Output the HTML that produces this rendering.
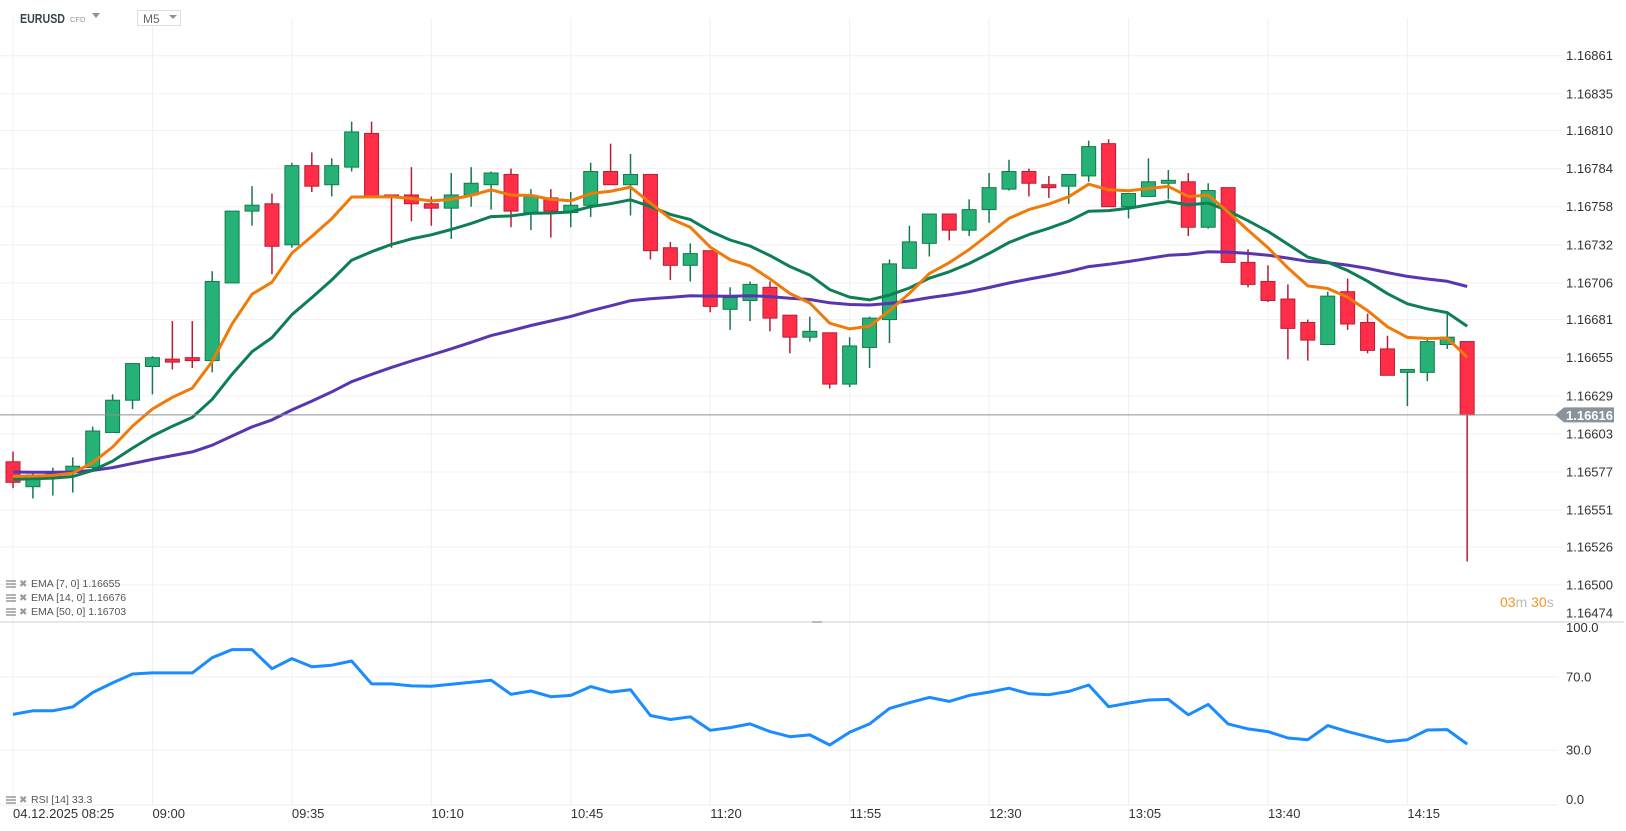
<!DOCTYPE html>
<html><head><meta charset="utf-8"><style>
html,body{margin:0;padding:0;background:#fff;}
svg{display:block;font-family:"Liberation Sans",sans-serif;}
</style></head><body>
<svg id="chart" width="1626" height="831" viewBox="0 0 1626 831">
<rect x="0" y="0" width="1626" height="831" fill="#fff"/>
<g id="grid"></g>
<g id="candles"></g>
<g id="emas"></g>
<g id="rsi"></g>
<g id="axes"></g>
<g>
  <text x="20" y="23" font-size="13" font-weight="bold" fill="#37474f" textLength="45" lengthAdjust="spacingAndGlyphs">EURUSD</text>
  <text x="70" y="22" font-size="7.5" fill="#8a9399">CFD</text>
  <path d="M92 13 L100 13 L96 18 Z" fill="#8a9399"/>
  <rect x="137.5" y="10.5" width="43" height="15" fill="#fff" stroke="#ddd"/>
  <text x="143" y="23" font-size="12" fill="#666">M5</text>
  <path d="M169 15 L177 15 L173 19 Z" fill="#8a9399"/>
</g>
<g font-size="10.5" fill="#555">
  <g><path d="M6 581h10M6 584h10M6 587h10" stroke="#999" stroke-width="1.5"/><text x="19" y="587" fill="#999" font-size="10">✖</text><text x="31" y="587">EMA  [7,  0]  1.16655</text></g>
  <g><path d="M6 595h10M6 598h10M6 601h10" stroke="#999" stroke-width="1.5"/><text x="19" y="601" fill="#999" font-size="10">✖</text><text x="31" y="601">EMA  [14,  0]  1.16676</text></g>
  <g><path d="M6 609h10M6 612h10M6 615h10" stroke="#999" stroke-width="1.5"/><text x="19" y="615" fill="#999" font-size="10">✖</text><text x="31" y="615">EMA  [50,  0]  1.16703</text></g>
  <g><path d="M6 797h10M6 800h10M6 803h10" stroke="#999" stroke-width="1.5"/><text x="19" y="803" fill="#999" font-size="10">✖</text><text x="31" y="803">RSI  [14]  33.3</text></g>
</g>
<g font-size="14">
  <text x="1500" y="607"><tspan fill="#f7931e">03</tspan><tspan fill="#bbb">m </tspan><tspan fill="#f7931e">30</tspan><tspan fill="#bbb">s</tspan></text>
</g>
<rect x="812" y="621" width="10" height="2" fill="#bbb"/>
<script>
const opens=[1.16584,1.16567,1.16574,1.16577,1.16580,1.16604,1.16626,1.16649,1.16654,1.16655,1.16653,1.16706,1.16755,1.16760,1.16732,1.16786,1.16773,1.16785,1.16808,1.16766,1.16766,1.16760,1.16757,1.16766,1.16773,1.16780,1.16754,1.16764,1.16754,1.16759,1.16782,1.16773,1.16780,1.16730,1.16718,1.16728,1.16688,1.16694,1.16703,1.16684,1.16669,1.16672,1.16637,1.16662,1.16681,1.16716,1.16733,1.16753,1.16742,1.16756,1.16770,1.16782,1.16773,1.16772,1.16779,1.16801,1.16758,1.16765,1.16774,1.16775,1.16744,1.16771,1.16720,1.16707,1.16695,1.16679,1.16664,1.16700,1.16679,1.16661,1.16645,1.16645,1.16664,1.16666];
const highs=[1.16591,1.16577,1.16580,1.16587,1.16608,1.16630,1.16651,1.16656,1.16680,1.16680,1.16714,1.16755,1.16772,1.16767,1.16788,1.16795,1.16791,1.16816,1.16816,1.16766,1.16785,1.16765,1.16781,1.16785,1.16782,1.16784,1.16770,1.16770,1.16768,1.16788,1.16801,1.16794,1.16780,1.16734,1.16733,1.16728,1.16703,1.16707,1.16707,1.16684,1.16683,1.16672,1.16669,1.16683,1.16722,1.16745,1.16753,1.16753,1.16763,1.16781,1.16790,1.16784,1.16779,1.16780,1.16803,1.16804,1.16767,1.16791,1.16783,1.16781,1.16774,1.16771,1.16729,1.16718,1.16705,1.16681,1.16700,1.16709,1.16685,1.16670,1.16647,1.16669,1.16685,1.16666];
const lows=[1.16566,1.16559,1.16561,1.16563,1.16579,1.16604,1.16620,1.16630,1.16647,1.16648,1.16645,1.16706,1.16745,1.16712,1.16730,1.16768,1.16765,1.16782,1.16765,1.16730,1.16748,1.16745,1.16736,1.16758,1.16756,1.16744,1.16742,1.16737,1.16744,1.16751,1.16773,1.16752,1.16722,1.16708,1.16707,1.16686,1.16674,1.16680,1.16673,1.16658,1.16666,1.16634,1.16635,1.16648,1.16665,1.16716,1.16724,1.16735,1.16738,1.16747,1.16769,1.16765,1.16764,1.16760,1.16775,1.16758,1.16750,1.16765,1.16763,1.16738,1.16743,1.16720,1.16703,1.16693,1.16654,1.16653,1.16664,1.16674,1.16658,1.16643,1.16622,1.16639,1.16661,1.16516];
const closes=[1.16570,1.16575,1.16576,1.16581,1.16605,1.16626,1.16651,1.16655,1.16652,1.16653,1.16707,1.16755,1.16759,1.16731,1.16786,1.16772,1.16786,1.16809,1.16765,1.16765,1.16760,1.16757,1.16766,1.16774,1.16781,1.16755,1.16765,1.16755,1.16759,1.16782,1.16773,1.16780,1.16728,1.16718,1.16726,1.16690,1.16696,1.16705,1.16682,1.16669,1.16673,1.16637,1.16663,1.16682,1.16719,1.16734,1.16753,1.16742,1.16756,1.16771,1.16782,1.16774,1.16771,1.16780,1.16799,1.16758,1.16767,1.16775,1.16776,1.16744,1.16769,1.16720,1.16705,1.16694,1.16675,1.16667,1.16697,1.16678,1.16660,1.16643,1.16647,1.16666,1.16669,1.16616];
const rsiValues=[49.5,51.5,51.5,53.6,61.5,66.7,71.6,72.2,72.2,72.2,80.5,84.9,84.9,74.5,80.0,75.5,76.4,78.7,66.2,66.2,65.1,64.9,66.0,67.1,68.2,60.5,62.3,59.2,59.9,64.7,61.7,63.0,48.9,46.7,48.2,40.8,42.3,44.3,40.1,37.3,38.3,32.8,39.7,44.3,52.8,55.9,58.8,56.6,59.9,61.7,63.8,60.8,60.3,62.1,65.6,53.7,55.7,57.4,57.7,49.3,55.0,44.3,41.6,40.1,36.6,35.7,43.4,40.1,37.3,34.6,35.7,41.0,41.2,33.3];
const priceTicks=[1.16861,1.16835,1.16810,1.16784,1.16758,1.16732,1.16706,1.16681,1.16655,1.16629,1.16603,1.16577,1.16551,1.16526,1.16500,1.16474];
const rsiTicks=[100,70,30,0];
const timeLabels=["04.12.2025  08:25","09:00","09:35","10:10","10:45","11:20","11:55","12:30","13:05","13:40","14:15"];
const timeLabelIdx=[0,7,14,21,28,35,42,49,56,63,70];
const emaSeeds=[1.16574,1.16572,1.16577];
const emaPeriods=[7,14,50];
const lastPrice=1.16616;

const NS="http://www.w3.org/2000/svg";
function el(tag,attrs,parent){const e=document.createElementNS(NS,tag);for(const k in attrs)e.setAttribute(k,attrs[k]);parent.appendChild(e);return e;}
const X=i=>13+i*19.92;
const Y=p=>357.7-(p-1.16655)*146600;
const RY=v=>805-v*1.83;
const grid=document.getElementById('grid');
const axes=document.getElementById('axes');

timeLabelIdx.forEach((idx,k)=>{
  const l=el('line',{x1:X(idx),x2:X(idx),y1:18,y2:805,stroke:'#f0f0f0','stroke-width':1},grid);
  
  
  const t=el('text',{x:X(idx),y:818,'font-size':13,fill:'#333','xml:space':'preserve'},axes);
  t.textContent=timeLabels[k];
  
  
});
priceTicks.forEach(p=>{
  const y=Y(p);
  if(p>1.1648){
    const l=el('line',{x1:0,x2:1562,y1:y,y2:y,stroke:'#f0f0f0','stroke-width':1},grid);
    
    
  }
  const t=el('text',{x:1566,y:Math.min(y,613)+4.5,'font-size':13,fill:'#333'},axes);
  t.textContent=p.toFixed(5);
  
  
});
rsiTicks.forEach(v=>{
  const y=RY(v);
  if(v>0&&v<100){
    const l=el('line',{x1:0,x2:1558,y1:y,y2:y,stroke:'#f0f0f0','stroke-width':1},grid);
    
    
  }
  const ty=v===100?y+10:(v===0?y-1:y+4.5);
  const t=el('text',{x:1566,y:ty,'font-size':13,fill:'#333'},axes);
  t.textContent=v.toFixed(1);
  
  
});
let bl=el('line',{x1:0,x2:1558,y1:805,y2:805,stroke:'#ececec','stroke-width':1},grid);


let dv=el('line',{x1:0,x2:1624,y1:622,y2:622,stroke:'#d6d6d6','stroke-width':1.2},grid);



const lpY=Y(lastPrice);
let lp=el('line',{x1:0,x2:1556,y1:lpY,y2:lpY,stroke:'#8a9399','stroke-width':1},axes);


let tag=el('path',{d:`M1555 ${lpY} L1564 ${lpY-7.5} L1614 ${lpY-7.5} L1614 ${lpY+7.5} L1564 ${lpY+7.5} Z`,fill:'#8a9399'},axes);


let tt=el('text',{x:1566,y:lpY+5,'font-size':13,'font-weight':'bold',fill:'#fff'},axes);
tt.textContent=lastPrice.toFixed(5);



const cg=document.getElementById('candles');
closes.forEach((c,i)=>{
  const o=opens[i],up=c>=o;
  const fill=up?'#26b276':'#ff2e48',stroke=up?'#137a4e':'#b81d34';
  const x=X(i);
  const g=el('g',{},cg);
  
  
  el('line',{x1:x,x2:x,y1:Y(highs[i]),y2:Y(lows[i]),stroke:stroke,'stroke-width':1.5},g);
  const top=Math.min(Y(o),Y(c)),h=Math.max(2,Math.abs(Y(o)-Y(c)));
  el('rect',{x:x-7,y:top,width:14,height:h,fill:fill,stroke:stroke,'stroke-width':1},g);
});

const eg=document.getElementById('emas');
const emaColors=['#f07a0a','#0f7e55','#5a35b0'];
const emaNames=['ema-7-line','ema-14-line','ema-50-line'];
[2,1,0].forEach(k=>{
  const a=2/(emaPeriods[k]+1);let e=emaSeeds[k];
  const pts=closes.map((c,i)=>{if(i>0)e=e+a*(c-e);return X(i).toFixed(1)+','+Y(e).toFixed(1);});
  const pl=el('polyline',{points:pts.join(' '),fill:'none',stroke:emaColors[k],'stroke-width':3,'stroke-linejoin':'round'},eg);
  
  
});

const rg=document.getElementById('rsi');
const rl=el('polyline',{points:rsiValues.map((v,i)=>X(i).toFixed(1)+','+RY(v).toFixed(1)).join(' '),fill:'none',stroke:'#1a8cff','stroke-width':3,'stroke-linejoin':'round'},rg);


</script>
</svg>
</body></html>
